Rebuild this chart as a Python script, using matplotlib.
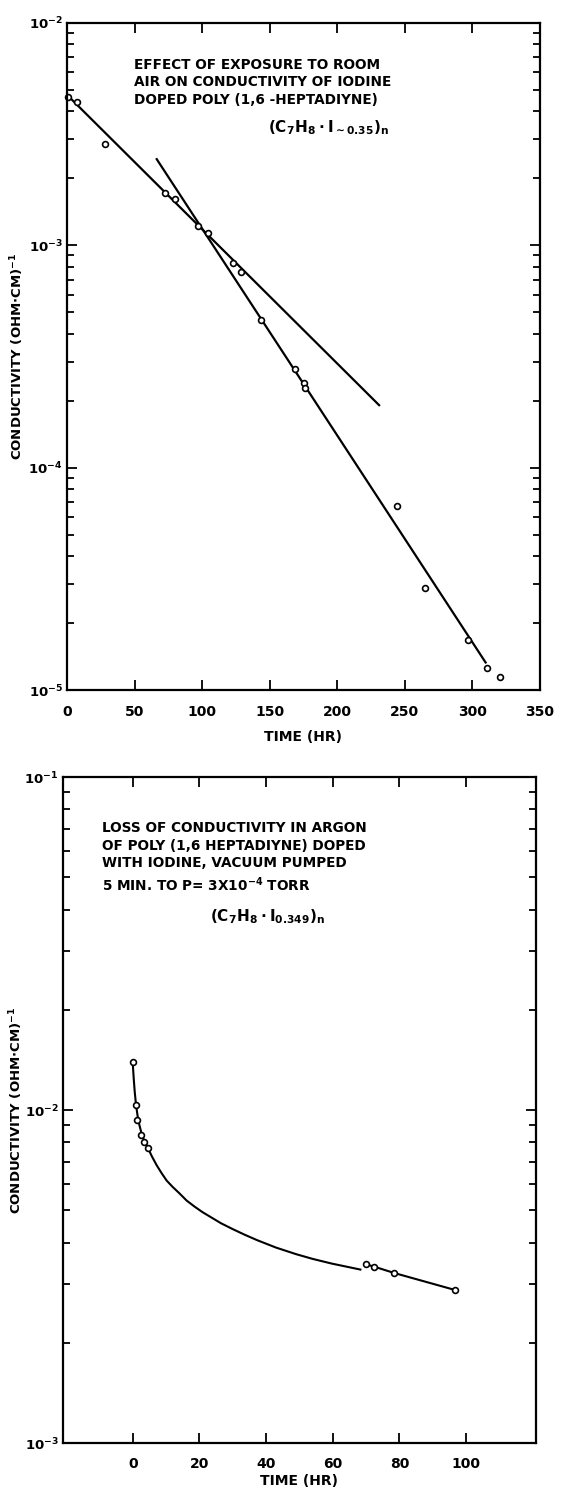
import numpy as np
import matplotlib
matplotlib.use("Agg")
import matplotlib.pyplot as plt
from matplotlib.ticker import LogLocator, NullFormatter

plt.rcParams['font.family'] = ['DejaVu Sans']
plt.rcParams['font.weight'] = 'bold'
plt.rcParams['mathtext.default'] = 'bf'

## top panel: exposure to room air
air_t = [1, 7.7, 28.3, 72.2, 80.2, 96.8, 104.2, 122.5, 128.8, 143.7,
         169, 175.4, 176.4, 243.9, 265.3, 296.8, 310.9, 320.6]
air_sigma = [4.66e-3, 4.4e-3, 2.85e-3, 1.71e-3, 1.61e-3, 1.22e-3, 1.14e-3,
             8.36e-4, 7.58e-4, 4.62e-4, 2.79e-4, 2.40e-4, 2.27e-4, 6.70e-5,
             2.88e-5, 1.67e-5, 1.26e-5, 1.14e-5]
fit_slow_t = [0, 231]
fit_slow_sigma = [4.75e-3, 1.91e-4]
fit_fast_t = [66.4, 309.8]
fit_fast_sigma = [2.44e-3, 1.33e-5]
air_xticks = [0, 50, 100, 150, 200, 250, 300, 350]
air_yticks = [1e-5, 1e-4, 1e-3, 1e-2]
air_ylabels = [r'$10^{-5}$', r'$10^{-4}$', r'$10^{-3}$', r'$10^{-2}$']

## bottom panel: argon
argon_t = [0, 1.0, 1.3, 2.6, 3.3, 4.5, 70, 72.3, 78.5, 96.8]
argon_sigma = [1.39e-2, 1.035e-2, 9.33e-3, 8.43e-3, 8.03e-3, 7.71e-3,
               3.44e-3, 3.39e-3, 3.24e-3, 2.88e-3]
curve_t = [0, 0.3, 0.6, 1.0, 1.5, 2.0, 2.6, 3.3, 4.5, 5.8, 7.2, 8.7, 10.2,
           12.0, 13.9, 16.2, 18.7, 21.0, 23.5, 26.5, 29.9, 33.5, 37.4, 43.0,
           49.1, 54.0, 59.7, 64.0, 68.3]
curve_log_sigma = [-1.858, -1.905, -1.945, -1.985, -2.020, -2.045, -2.068,
                   -2.088, -2.113, -2.140, -2.166, -2.190, -2.212, -2.231,
                   -2.249, -2.272, -2.291, -2.307, -2.322, -2.340, -2.357,
                   -2.374, -2.391, -2.413, -2.433, -2.447, -2.461, -2.470,
                   -2.479]
tail_t = [70, 72.3, 78.5, 96.8]
tail_sigma = [3.44e-3, 3.39e-3, 3.24e-3, 2.88e-3]
argon_xticks = [0, 20, 40, 60, 80, 100]
argon_yticks = [1e-3, 1e-2, 1e-1]
argon_ylabels = [r'$10^{-3}$', r'$10^{-2}$', r'$10^{-1}$']

YLABEL = r'CONDUCTIVITY (OHM$\cdot$CM)$^{-1}$'


def style_axis(ax, xticks, yticks, ylabels, label_x, xpad, xlabelpad):
    ax.set_yscale('log')
    ax.set_xticks(xticks)
    ax.set_yticks(yticks)
    ax.set_yticklabels(ylabels)
    ax.yaxis.set_minor_locator(LogLocator(base=10, subs=np.arange(2, 10)))
    ax.yaxis.set_minor_formatter(NullFormatter())
    ax.tick_params(which='both', direction='in', top=True, right=True,
                   width=1.3)
    ax.tick_params(which='major', length=7)
    ax.tick_params(which='minor', length=5)
    ax.tick_params(axis='x', pad=xpad, labelsize=10)
    ax.tick_params(axis='y', pad=3, labelsize=9.5)
    for sp in ax.spines.values():
        sp.set_linewidth(1.6)
    ax.set_ylabel(YLABEL, fontsize=9.5, fontweight='bold')
    ax.yaxis.set_label_coords(label_x, 0.5)
    ax.set_xlabel('TIME (HR)', fontsize=10, fontweight='bold',
                  labelpad=xlabelpad)


fig = plt.figure(figsize=(5.63, 14.90), dpi=100)

## top panel
ax1 = fig.add_axes([0.119, 0.5369, 0.840, 0.4477])
ax1.plot(fit_slow_t, fit_slow_sigma, color='black', lw=1.6)
ax1.plot(fit_fast_t, fit_fast_sigma, color='black', lw=1.6)
ax1.plot(air_t, air_sigma, linestyle='none', marker='o', ms=4.2, mew=1.2,
         mfc='white', mec='black', clip_on=False)
ax1.set_xlim(0, 350)
ax1.set_ylim(1e-5, 1e-2)
style_axis(ax1, air_xticks, air_yticks, air_ylabels, -0.087, 11, 8)
ax1.text(0.141, 0.948,
         'EFFECT OF EXPOSURE TO ROOM\nAIR ON CONDUCTIVITY OF IODINE\nDOPED POLY (1,6 -HEPTADIYNE)',
         transform=ax1.transAxes, ha='left', va='top', fontsize=9.8,
         fontweight='bold', linespacing=1.33)
ax1.text(0.552, 0.843, r'$(C_7H_8 \cdot I_{\sim 0.35})_n$',
         transform=ax1.transAxes, ha='center', va='center', fontsize=11)

## bottom panel
ax2 = fig.add_axes([0.1114, 0.0315, 0.8407, 0.447])
ax2.plot(curve_t, 10 ** np.array(curve_log_sigma), color='black', lw=1.5)
ax2.plot(tail_t, tail_sigma, color='black', lw=1.5)
ax2.plot(argon_t, argon_sigma, linestyle='none', marker='o', ms=4.2, mew=1.2,
         mfc='white', mec='black')
ax2.set_xlim(-21, 121)
ax2.set_ylim(1e-3, 1e-1)
style_axis(ax2, argon_xticks, argon_yticks, argon_ylabels, -0.080, 10, 2)
ax2.text(0.084, 0.934,
         'LOSS OF CONDUCTIVITY IN ARGON\nOF POLY (1,6 HEPTADIYNE) DOPED\n'
         'WITH IODINE, VACUUM PUMPED\n5 MIN. TO P= 3X10$^{-4}$ TORR',
         transform=ax2.transAxes, ha='left', va='top', fontsize=9.8,
         fontweight='bold', linespacing=1.33)
ax2.text(0.433, 0.79, r'$(C_7H_8 \cdot I_{0.349})_n$',
         transform=ax2.transAxes, ha='center', va='center', fontsize=11)

fig.savefig('out.png', dpi=100)
